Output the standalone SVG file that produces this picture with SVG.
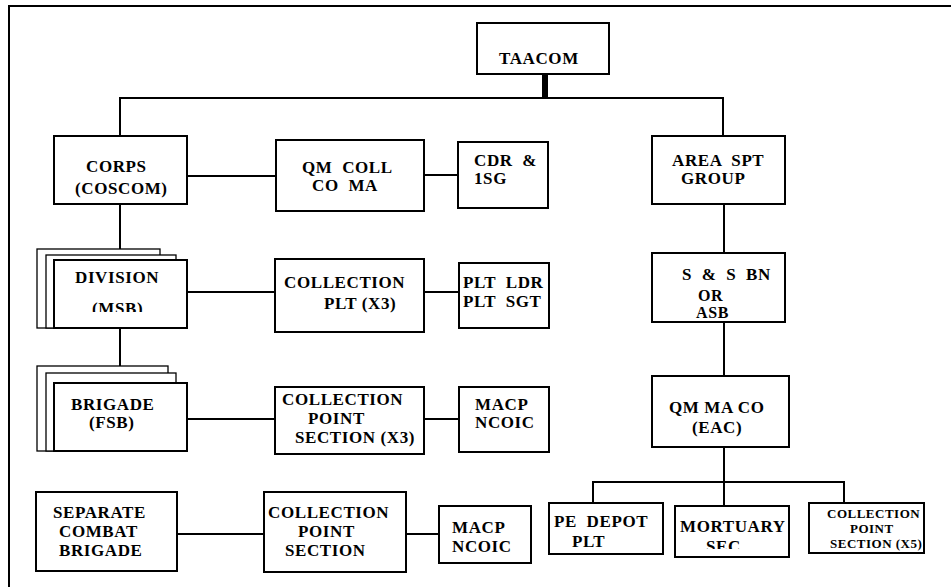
<svg xmlns="http://www.w3.org/2000/svg" width="951" height="587" viewBox="0 0 951 587" font-family="'Liberation Serif', 'Times New Roman', serif">
<style>
.box{fill:#fff;stroke:#000;stroke-width:2}
.sh{fill:#fff;stroke:#000;stroke-width:1.3}
.ln{fill:none;stroke:#000;stroke-width:2}
text{font-family:'Liberation Serif','Times New Roman',Times,serif;font-weight:bold;font-size:17px;letter-spacing:0.6px;fill:#000}
.sm{font-size:13px;letter-spacing:0.5px}
.tight{font-size:16px}
</style>
<defs>
<clipPath id="clipMsb"><rect x="54" y="260" width="133" height="52"/></clipPath>
<clipPath id="clipSec"><rect x="675" y="506" width="114" height="43"/></clipPath>
</defs>
<rect width="951" height="587" fill="#fff"/>
<g id="frame"><path class="ln" d="M9 587V6H951"/></g>
<g id="connectors">
<path d="M545 74V98" stroke="#000" stroke-width="6" fill="none"/>
<path class="ln" d="M120 136V98H723V136"/>
<path class="ln" d="M187 176H276"/>
<path class="ln" d="M424 175H458"/>
<path class="ln" d="M120 204V260"/>
<path class="ln" d="M187 292H275"/>
<path class="ln" d="M424 292H459"/>
<path class="ln" d="M120 328V383"/>
<path class="ln" d="M187 419H275"/>
<path class="ln" d="M424 419H459"/>
<path class="ln" d="M177 534H264"/>
<path class="ln" d="M406 534H439"/>
<path class="ln" d="M724 204V253"/>
<path class="ln" d="M724 322V376"/>
<path class="ln" d="M724 447V506"/>
<path class="ln" d="M593 503V482H844V503"/>
</g>
<g id="taacom"><rect class="box" x="477" y="23" width="132" height="51"/><text x="499" y="64">TAACOM</text></g>
<g id="corps"><rect class="box" x="54" y="136" width="133" height="68"/><text x="86" y="172">CORPS</text><text x="75" y="194">(COSCOM)</text></g>
<g id="qm-coll"><rect class="box" x="276" y="140" width="148" height="71"/><text x="302" y="173" xml:space="preserve">QM  COLL</text><text x="312" y="191" xml:space="preserve">CO  MA</text></g>
<g id="cdr"><rect class="box" x="458" y="142" width="90" height="66"/><text x="474" y="166" xml:space="preserve">CDR  &amp;</text><text x="474" y="184">1SG</text></g>
<g id="area-spt"><rect class="box" x="652" y="136" width="133" height="68"/><text x="672" y="166" xml:space="preserve">AREA  SPT</text><text x="681" y="184">GROUP</text></g>
<g id="division">
<rect class="sh" x="37" y="249" width="123" height="79"/>
<rect class="sh" x="46" y="255" width="130" height="73"/>
<rect class="box" x="54" y="260" width="133" height="68"/>
<text x="75" y="283">DIVISION</text>
<text x="92" y="314" clip-path="url(#clipMsb)">(MSB)</text>
</g>
<g id="collection-plt"><rect class="box" x="275" y="259" width="149" height="73"/><text x="284" y="288">COLLECTION</text><text x="324" y="309">PLT (X3)</text></g>
<g id="plt-ldr"><rect class="box" x="459" y="263" width="90" height="65"/><text x="463" y="288" xml:space="preserve">PLT  LDR</text><text x="463" y="307" xml:space="preserve">PLT  SGT</text></g>
<g id="ssbn"><rect class="box" x="652" y="253" width="133" height="69"/><text x="682" y="280" xml:space="preserve">S  &amp;  S  BN</text><text class="tight" x="698" y="301">OR</text><text class="tight" x="696" y="318">ASB</text></g>
<g id="brigade">
<rect class="sh" x="37" y="366" width="131" height="85"/>
<rect class="sh" x="46" y="373" width="130" height="78"/>
<rect class="box" x="54" y="383" width="133" height="68"/>
<text x="71" y="410">BRIGADE</text>
<text x="89" y="428">(FSB)</text>
</g>
<g id="cp-section-x3"><rect class="box" x="275" y="387" width="149" height="67"/><text x="282" y="405">COLLECTION</text><text x="308" y="424">POINT</text><text x="295" y="443">SECTION (X3)</text></g>
<g id="macp1"><rect class="box" x="459" y="387" width="90" height="65"/><text x="475" y="410">MACP</text><text x="475" y="428">NCOIC</text></g>
<g id="qm-ma-co"><rect class="box" x="652" y="376" width="137" height="71"/><text x="669" y="413">QM MA CO</text><text x="692" y="433">(EAC)</text></g>
<g id="sep-brigade"><rect class="box" x="36" y="492" width="141" height="79"/><text x="53" y="518">SEPARATE</text><text x="59" y="537">COMBAT</text><text x="59" y="556">BRIGADE</text></g>
<g id="cp-section"><rect class="box" x="264" y="492" width="142" height="80"/><text x="268" y="518">COLLECTION</text><text x="298" y="537">POINT</text><text x="285" y="556">SECTION</text></g>
<g id="macp2"><rect class="box" x="439" y="506" width="92" height="57"/><text x="452" y="533">MACP</text><text x="452" y="552">NCOIC</text></g>
<g id="pe-depot"><rect class="box" x="549" y="503" width="114" height="51"/><text x="554" y="527" xml:space="preserve">PE  DEPOT</text><text x="572" y="547">PLT</text></g>
<g id="mortuary"><rect class="box" x="675" y="506" width="114" height="51"/><text x="680" y="532">MORTUARY</text><text x="706" y="552" clip-path="url(#clipSec)">SEC</text></g>
<g id="cp-section-x5"><rect class="box" x="809" y="503" width="115" height="50"/><text class="sm" x="827" y="518">COLLECTION</text><text class="sm" x="850" y="533">POINT</text><text class="sm" x="830" y="548">SECTION (X5)</text></g>
</svg>
